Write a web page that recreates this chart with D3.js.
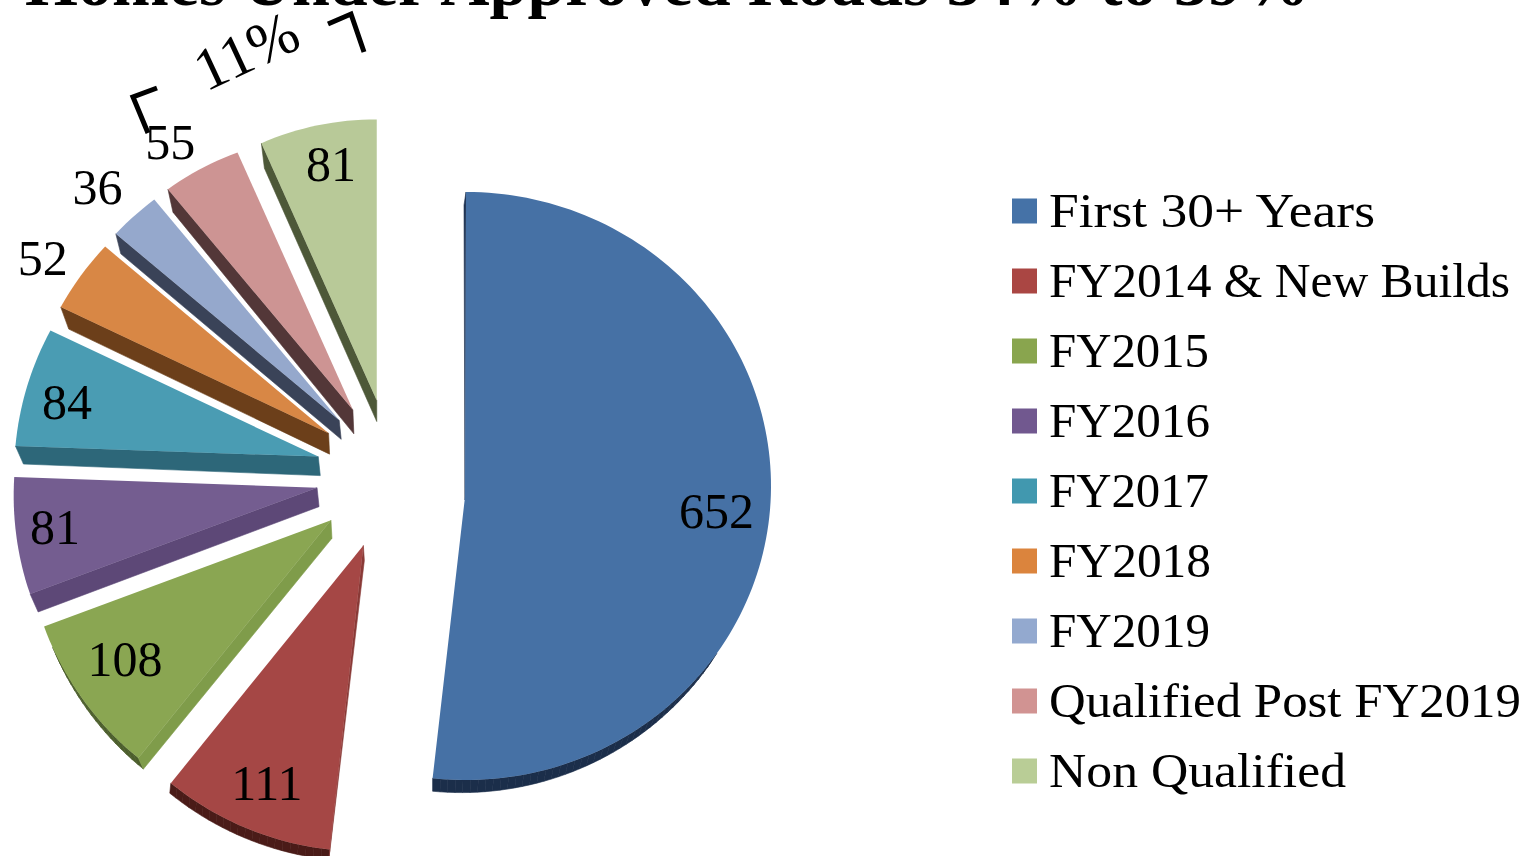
<!DOCTYPE html>
<html><head><meta charset="utf-8">
<script src="https://cdn.jsdelivr.net/npm/d3@7"></script>
<style>html,body{margin:0;padding:0;background:#fff;overflow:hidden}svg{display:block}text{font-family:"Liberation Serif",serif;fill:#000}</style>
</head><body><svg id="c" width="1539" height="856"></svg>
<script>
const categories = ["First 30+ Years","FY2014 & New Builds","FY2015","FY2016","FY2017","FY2018","FY2019","Qualified Post FY2019","Non Qualified"];
const values = [652,111,108,81,84,52,36,55,81];
const colors = ["#4671a5","#a54745","#8aa652","#745d90","#4a9cb3","#d88745","#95a8cc","#cd9493","#b8c998"];
const legendColors = ["#4572a7","#aa4643","#89a54e","#71588f","#4198af","#db843d","#93a9cf","#d19392","#b9cd96"];
const sideColors = ["#1f3352","#8a3a37","#7f9c4a","#5d4877","#2d6779","#6c3f1a","#3a4358","#533738","#4d5838"];
const arcColors  = ["#1b2e4a","#4a1b18","#4c5e2c","#5d4877","#2d6779","#6c3f1a","#3a4358","#533738","#4d5838"];
const titleText = "Homes Under Approved Roads 34% to 39%";
const legendWidths = [326,461,160,161,160,162,161,472,297];

const svg = d3.select("#c");
const pieC = [392,475], explode = 76;
const toRad = d => d*Math.PI/180;
const pie = d3.pie().sort(null).value(d=>d)(values);
// perspective: rim distance and angular warp by direction (degrees clockwise from the top)
const rimDirs = [186,218,250,272,296,311,321,337,360];
const rimRadius = d3.scaleLinear().domain(rimDirs).range([306,306,306,303,296,291,288,282,281]);
const rimWarp = d3.scaleLinear().domain(rimDirs).range([0,1,0.8,0,-0.8,-1,-1.1,-1,0]);
// wall extrusion at apex and at rim for each slice (3D look)
const depthApex = [[0,3],[1,15],[1,18],[2,19],[2,19],[1,21],[2,19],[1,24],[0,21]];
const depthRim  = [[-2,13],[-1,10],[5,11],[8,18],[8,18],[8,22],[5,20],[5,23],[3,25]];
const arcDepthStart = [[-17,0],[-1,10],[5,11],[8,18],[8,18],[8,22],[5,20],[5,23],[3,25]];
const arcDepthEnd   = [[0,13],[-1,10],[5,11],[8,18],[8,18],[8,22],[5,20],[5,23],[3,25]];
const polar = (o,a,rx,ry)=>[o[0]+rx*Math.sin(a), o[1]-(ry||rx)*Math.cos(a)];
const line = d3.line();

const slices = pie.map((p,i)=>{
  const mid=(p.startAngle+p.endAngle)/2;
  let apex=polar(pieC,mid,explode);
  const n=Math.max(4,Math.round((p.endAngle-p.startAngle)*40));
  const angs=d3.range(n+1).map(k=>p.startAngle+(p.endAngle-p.startAngle)*k/n);
  let rim;
  if(i===0){ apex=[465,497]; rim=angs.map(a=>polar([466,486],a,305,294)); }
  else rim=angs.map(a=>{const deg=a*180/Math.PI;return polar(apex,a+toRad(rimWarp(deg)),rimRadius(deg));});
  return {p,i,mid,apex,rim};
});

function quad(a,b,da,db){return [a,b,[b[0]+db[0],b[1]+db[1]],[a[0]+da[0],a[1]+da[1]]];}
const g=svg.append("g");
slices.forEach(s=>{
  const i=s.i, da=depthApex[i], dr=depthRim[i];
  const wall=g.append("g");
  const add=(pts,c)=>wall.append("path").attr("d",line(pts)+"Z").attr("fill",c).attr("stroke",c).attr("stroke-width",0.6);
  const m=s.rim.length-1;
  const dArc=t=>[d3.interpolate(arcDepthStart[i][0],arcDepthEnd[i][0])(t),d3.interpolate(arcDepthStart[i][1],arcDepthEnd[i][1])(t)];
  d3.pairs(s.rim).forEach(([a,b],k)=>{
    const d=dArc((k+0.5)/m), nx=(a[0]+b[0])/2-s.apex[0], ny=(a[1]+b[1])/2-s.apex[1];
    if(d[0]*nx+d[1]*ny>0) add(quad(a,b,dArc(k/m),dArc((k+1)/m)),arcColors[i]);
  });
  add(quad(s.apex,s.rim[0],da,dr),sideColors[i]);
  g.append("path").attr("d",line([s.apex,...s.rim])+"Z").attr("fill",colors[i]);
});

// data labels
const labelRadius=[252,256,248,265,257,335,336,324,241];
const labelTurn=[0,0,2.7,1,-1.8,-2,-2,-3.3,0.6];
slices.forEach(s=>{
  const q=polar(s.apex,s.mid+toRad(labelTurn[s.i]),labelRadius[s.i]);
  svg.append("text").attr("x",q[0]).attr("y",q[1]).attr("dy","0.34em").attr("text-anchor","middle").attr("font-size",50).text(values[s.i]);
});

// title, clipped by the top of the page
svg.append("text").attr("x",25).attr("y",5).attr("font-size",68).attr("font-weight","bold").attr("textLength",1285).attr("lengthAdjust","spacingAndGlyphs").text(titleText);

// 11% bracket
svg.append("text").attr("transform","translate(206,92) rotate(-25)").attr("font-size",60).text("11%");
const bracketL=[[157,88],[133,97],[148,133]], bracketR=[[328,24],[351,14],[364,52]];
[bracketL,bracketR].forEach(b=>svg.append("path").attr("d",line(b)).attr("fill","none").attr("stroke","#000").attr("stroke-width",5));

// legend
const rowY=d3.scalePoint().domain(d3.range(categories.length)).range([211,771]);
const leg=svg.append("g").selectAll("g").data(categories).join("g").attr("transform",(d,i)=>`translate(1012,${rowY(i)})`);
leg.append("rect").attr("x",0).attr("y",-12.5).attr("width",25).attr("height",25).attr("fill",(d,i)=>legendColors[i]);
leg.append("text").attr("x",37).attr("y",16).attr("font-size",48).attr("textLength",(d,i)=>legendWidths[i]).attr("lengthAdjust","spacingAndGlyphs").text(d=>d);
</script></body></html>
